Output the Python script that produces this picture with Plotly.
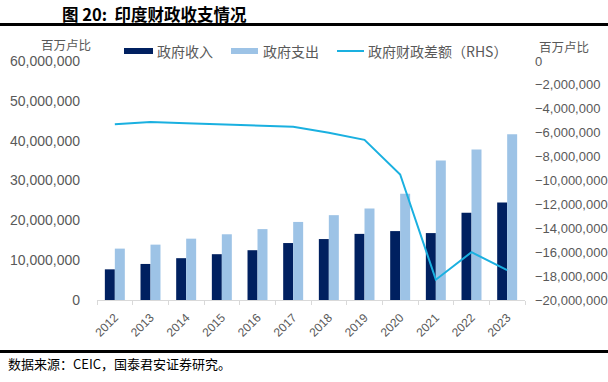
import plotly.graph_objects as go

years = ["2012", "2013", "2014", "2015", "2016", "2017", "2018", "2019", "2020", "2021", "2022", "2023"]
revenue = [7.7e6, 9.05e6, 10.5e6, 11.5e6, 12.5e6, 14.3e6, 15.3e6, 16.6e6, 17.3e6, 16.8e6, 21.9e6, 24.5e6]
expenditure = [12.9e6, 13.9e6, 15.4e6, 16.5e6, 17.8e6, 19.6e6, 21.3e6, 23.0e6, 26.7e6, 35.0e6, 37.8e6, 41.6e6]
balance = [-5.3e6, -5.1e6, -5.2e6, -5.3e6, -5.4e6, -5.5e6, -6.0e6, -6.6e6, -9.5e6, -18.3e6, -16.0e6, -17.5e6]

series_names = ["政府收入", "政府支出", "政府财政差额（RHS）"]
series_colors = ["#002060", "#9DC3E6", "#1AB0E0"]

FONT = "Liberation Sans, Arial, Noto Sans CJK SC, sans-serif"
CJK = "Noto Sans CJK SC, sans-serif"
GRAY = "#595959"

W, H = 608, 382
ML, MR, MT, MB = 97, 83, 61, 82

fig = go.Figure()
fig.add_trace(go.Bar(x=years, y=revenue, name=series_names[0], marker_color=series_colors[0], showlegend=False))
fig.add_trace(go.Bar(x=years, y=expenditure, name=series_names[1], marker_color=series_colors[1], showlegend=False))
fig.add_trace(go.Scatter(x=years, y=balance, name=series_names[2], mode="lines", showlegend=False,
                         line=dict(color=series_colors[2], width=2), yaxis="y2"))

fig.update_layout(
    template="none",
    width=W, height=H,
    margin=dict(l=ML, r=MR, t=MT, b=MB, autoexpand=False),
    paper_bgcolor="white", plot_bgcolor="white",
    barmode="group", bargap=0.44, bargroupgap=0,
    font=dict(family=FONT, size=13, color=GRAY),
    showlegend=False,
    xaxis=dict(showgrid=False, showline=True, linecolor="#D9D9D9", linewidth=1, automargin=False,
               type="category", tickmode="linear", dtick=1,
               ticks="outside", ticklen=4, tickcolor="#D9D9D9", tickson="boundaries", tickangle=-45,
               ticklabelstandoff=5,
               zeroline=False, tickfont=dict(family=FONT, size=12, color=GRAY)),
    yaxis=dict(range=[0, 60e6], dtick=10e6, tickformat=",", showgrid=False, zeroline=False,
               showline=False, ticks="", ticklabelstandoff=16, automargin=False,
               tickfont=dict(family=FONT, size=14, color=GRAY)),
    yaxis2=dict(range=[-20e6, 0], dtick=2e6, tickformat=",", overlaying="y", side="right",
                showgrid=False, zeroline=False, showline=False, ticks="", ticklabelstandoff=9,
                automargin=False, tickfont=dict(family=FONT, size=13, color=GRAY)),
)

pw, ph = W - ML - MR, H - MT - MB
def px(x):
    return (x - ML) / pw
def py(y):
    return (H - MB - y) / ph

def text(t, x, y, anchor="left", size=13, color=GRAY, family=CJK):
    fig.add_annotation(text=t, x=px(x), y=py(y), xref="paper", yref="paper",
                       xanchor=anchor, yanchor="middle", showarrow=False,
                       font=dict(family=family, size=size, color=color))

# title and rules
text("<b>图 20:  印度财政收支情况</b>", 60, 14, size=16.5, color="black")
fig.add_shape(type="line", xref="paper", yref="paper", x0=px(0), x1=px(W), y0=py(24.5), y1=py(24.5),
              line=dict(color="black", width=3))
fig.add_shape(type="line", xref="paper", yref="paper", x0=px(0), x1=px(W), y0=py(351.5), y1=py(351.5),
              line=dict(color="black", width=3))
text("数据来源：CEIC，国泰君安证券研究。", 6, 363, size=13, color="black")

# unit labels
text("百万卢比", 93, 44, anchor="right", size=12.5)
text("百万卢比", 537, 46, size=12.5)

# legend (manual, to match the reference swatches)
fig.add_shape(type="rect", xref="paper", yref="paper", x0=px(124), x1=px(153), y0=py(48), y1=py(54),
              line=dict(width=0), fillcolor=series_colors[0])
text(series_names[0], 155, 51, size=14)
fig.add_shape(type="rect", xref="paper", yref="paper", x0=px(231), x1=px(258), y0=py(48), y1=py(54),
              line=dict(width=0), fillcolor=series_colors[1])
text(series_names[1], 261, 51, size=14)
fig.add_shape(type="line", xref="paper", yref="paper", x0=px(337), x1=px(364), y0=py(51), y1=py(51),
              line=dict(color=series_colors[2], width=2))
text(series_names[2], 366, 51, size=14)

fig.write_html("out.html", config={"displayModeBar": False},
               post_script="document.body.style.margin='0';document.body.style.overflow='hidden';")
